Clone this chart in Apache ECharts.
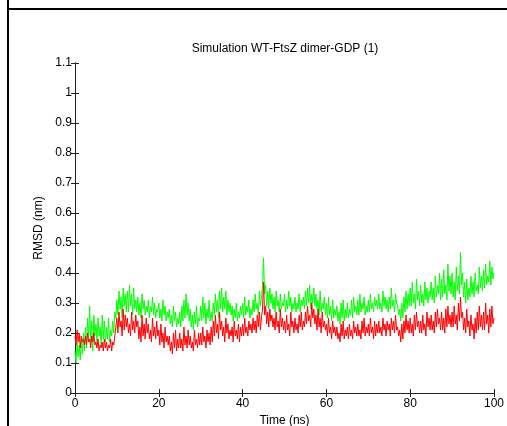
<!DOCTYPE html>
<html>
<head>
<meta charset="utf-8">
<script src="https://cdn.jsdelivr.net/npm/echarts@6/dist/echarts.min.js"></script>
<style>
  html, body { margin: 0; padding: 0; background: #fff; }
  #chart { width: 507px; height: 426px; }
</style>
</head>
<body>
<div id="chart"></div>
<script>
// time step of the sampled traces (ns)
const timeStep = 0.25;
const xTicks = [0, 20, 40, 60, 80, 100];

// RMSD traces (nm), one value per 0.25 ns (10 per line = 2.5 ns)
const greenRmsd = [
  0.14,0.10,0.17,0.12,0.16,0.11,0.18,0.13,0.20,0.14,
  0.22,0.15,0.25,0.18,0.29,0.17,0.24,0.14,0.26,0.19,
  0.23,0.17,0.25,0.19,0.22,0.16,0.26,0.18,0.24,0.17,
  0.22,0.18,0.25,0.17,0.21,0.19,0.24,0.20,0.27,0.25,
  0.31,0.26,0.34,0.28,0.32,0.25,0.35,0.29,0.33,0.27,
  0.34,0.27,0.36,0.29,0.33,0.26,0.35,0.28,0.31,0.27,
  0.32,0.26,0.30,0.25,0.33,0.28,0.31,0.26,0.29,0.27,
  0.31,0.25,0.29,0.27,0.32,0.26,0.30,0.25,0.28,0.27,
  0.30,0.25,0.28,0.24,0.31,0.26,0.29,0.24,0.27,0.25,
  0.28,0.23,0.26,0.22,0.29,0.24,0.27,0.22,0.25,0.23,
  0.27,0.22,0.29,0.24,0.31,0.25,0.33,0.26,0.30,0.24,
  0.28,0.22,0.26,0.21,0.27,0.23,0.29,0.22,0.25,0.24,
  0.29,0.24,0.32,0.25,0.30,0.23,0.28,0.25,0.31,0.24,
  0.27,0.24,0.30,0.26,0.33,0.27,0.31,0.25,0.34,0.28,
  0.35,0.27,0.32,0.28,0.34,0.26,0.31,0.27,0.30,0.26,
  0.29,0.24,0.28,0.25,0.30,0.24,0.27,0.25,0.29,0.26,
  0.30,0.25,0.32,0.26,0.29,0.27,0.31,0.25,0.28,0.26,
  0.31,0.27,0.33,0.28,0.30,0.26,0.34,0.29,0.32,0.36,
  0.45,0.33,0.36,0.29,0.34,0.28,0.35,0.30,0.33,0.28,
  0.32,0.27,0.34,0.29,0.31,0.27,0.33,0.28,0.30,0.29,
  0.33,0.27,0.31,0.28,0.34,0.29,0.32,0.27,0.30,0.28,
  0.32,0.27,0.30,0.28,0.33,0.27,0.31,0.29,0.32,0.28,
  0.34,0.29,0.35,0.30,0.36,0.28,0.33,0.30,0.35,0.29,
  0.33,0.28,0.31,0.26,0.34,0.27,0.30,0.28,0.32,0.26,
  0.30,0.25,0.32,0.26,0.29,0.24,0.31,0.25,0.28,0.26,
  0.29,0.24,0.27,0.23,0.30,0.25,0.31,0.24,0.28,0.25,
  0.30,0.25,0.28,0.26,0.31,0.25,0.32,0.27,0.29,0.26,
  0.31,0.26,0.33,0.27,0.30,0.28,0.32,0.26,0.29,0.27,
  0.31,0.27,0.33,0.28,0.30,0.27,0.32,0.29,0.31,0.28,
  0.33,0.28,0.30,0.27,0.34,0.29,0.32,0.28,0.31,0.27,
  0.32,0.28,0.35,0.29,0.31,0.27,0.33,0.30,0.29,0.26,
  0.28,0.24,0.30,0.25,0.32,0.27,0.34,0.28,0.33,0.29,
  0.35,0.29,0.37,0.30,0.33,0.28,0.38,0.31,0.34,0.29,
  0.36,0.30,0.33,0.29,0.37,0.31,0.35,0.30,0.34,0.32,
  0.37,0.31,0.35,0.30,0.39,0.32,0.36,0.33,0.40,0.31,
  0.38,0.32,0.41,0.33,0.36,0.31,0.43,0.34,0.39,0.33,
  0.40,0.32,0.37,0.31,0.42,0.34,0.39,0.33,0.47,0.36,
  0.40,0.32,0.37,0.30,0.38,0.31,0.35,0.32,0.39,0.33,
  0.37,0.32,0.40,0.34,0.36,0.33,0.42,0.35,0.39,0.34,
  0.41,0.35,0.43,0.36,0.39,0.37,0.44,0.36,0.42,0.38,0.40
];

const redRmsd = [
  0.19,0.16,0.21,0.17,0.20,0.15,0.19,0.17,0.18,0.16,
  0.19,0.16,0.20,0.17,0.18,0.15,0.19,0.17,0.20,0.16,
  0.17,0.15,0.18,0.14,0.16,0.15,0.17,0.14,0.18,0.15,
  0.17,0.14,0.16,0.15,0.18,0.14,0.17,0.16,0.19,0.22,
  0.25,0.20,0.27,0.22,0.24,0.19,0.28,0.21,0.26,0.22,
  0.25,0.20,0.23,0.19,0.27,0.21,0.24,0.20,0.26,0.22,
  0.24,0.18,0.22,0.17,0.26,0.19,0.23,0.18,0.25,0.20,
  0.23,0.18,0.21,0.17,0.25,0.19,0.22,0.18,0.24,0.19,
  0.21,0.16,0.23,0.17,0.20,0.15,0.22,0.17,0.19,0.16,
  0.19,0.14,0.17,0.13,0.20,0.15,0.21,0.14,0.18,0.15,
  0.20,0.15,0.18,0.14,0.22,0.16,0.19,0.15,0.21,0.16,
  0.19,0.15,0.17,0.14,0.21,0.16,0.18,0.15,0.20,0.16,
  0.20,0.16,0.22,0.17,0.19,0.15,0.21,0.17,0.20,0.16,
  0.22,0.17,0.24,0.19,0.26,0.20,0.23,0.18,0.27,0.21,
  0.24,0.19,0.22,0.17,0.25,0.20,0.23,0.18,0.21,0.19,
  0.22,0.17,0.24,0.19,0.21,0.18,0.23,0.17,0.22,0.19,
  0.23,0.19,0.25,0.20,0.22,0.19,0.24,0.21,0.23,0.20,
  0.25,0.21,0.24,0.20,0.26,0.22,0.27,0.21,0.25,0.28,
  0.37,0.26,0.29,0.23,0.27,0.22,0.28,0.24,0.26,0.22,
  0.25,0.21,0.27,0.22,0.24,0.20,0.28,0.22,0.25,0.21,
  0.24,0.20,0.26,0.21,0.23,0.19,0.27,0.22,0.24,0.20,
  0.25,0.21,0.23,0.20,0.26,0.22,0.27,0.21,0.24,0.22,
  0.27,0.23,0.29,0.24,0.26,0.22,0.30,0.25,0.28,0.23,
  0.26,0.21,0.28,0.22,0.25,0.20,0.27,0.22,0.24,0.21,
  0.23,0.19,0.25,0.20,0.22,0.18,0.24,0.20,0.22,0.19,
  0.22,0.18,0.20,0.17,0.23,0.19,0.24,0.18,0.21,0.19,
  0.22,0.18,0.23,0.19,0.21,0.18,0.24,0.20,0.22,0.19,
  0.23,0.19,0.21,0.18,0.24,0.20,0.25,0.19,0.22,0.20,
  0.23,0.19,0.25,0.20,0.22,0.18,0.24,0.19,0.23,0.20,
  0.24,0.20,0.22,0.19,0.25,0.21,0.23,0.19,0.24,0.21,
  0.23,0.19,0.25,0.21,0.24,0.20,0.26,0.21,0.22,0.19,
  0.21,0.17,0.23,0.18,0.24,0.20,0.26,0.21,0.24,0.20,
  0.25,0.20,0.23,0.19,0.26,0.21,0.27,0.22,0.24,0.20,
  0.24,0.20,0.26,0.21,0.23,0.19,0.27,0.22,0.25,0.21,
  0.26,0.21,0.24,0.20,0.27,0.22,0.28,0.23,0.25,0.21,
  0.27,0.21,0.25,0.20,0.28,0.22,0.29,0.23,0.26,0.22,
  0.27,0.22,0.29,0.23,0.26,0.21,0.30,0.24,0.32,0.25,
  0.27,0.21,0.25,0.20,0.28,0.22,0.24,0.19,0.26,0.21,
  0.23,0.18,0.25,0.20,0.27,0.21,0.29,0.22,0.26,0.21,
  0.27,0.21,0.30,0.23,0.26,0.20,0.28,0.22,0.29,0.23,0.25
];

const toPairs = (arr) => arr.map((v, i) => [+(i * timeStep).toFixed(2), v]);

const fontFamily = "Liberation Sans, Arial, sans-serif";
const axisColor = "#222";

const myChart = echarts.init(document.getElementById("chart"));

myChart.setOption({
  animation: false,
  backgroundColor: "#fff",
  title: {
    text: "Simulation WT-FtsZ dimer-GDP (1)",
    left: 280,
    top: 38,
    textAlign: "center",
    textStyle: { fontFamily, fontSize: 12, fontWeight: "normal", color: "#000" },
  },
  grid: { left: 75, right: 13, top: 63, bottom: 33, outerBoundsMode: "none" },
  xAxis: [
    {
      type: "value",
      min: 0,
      max: 100,
      interval: 20,
      name: "Time (ns)",
      nameLocation: "middle",
      nameGap: 19,
      nameTextStyle: { fontFamily, fontSize: 12, color: "#000" },
      axisLine: { lineStyle: { color: axisColor, width: 1 } },
      axisTick: { inside: true, length: 4, lineStyle: { color: axisColor } },
      axisLabel: {
        fontFamily, fontSize: 12, color: "#000", margin: 5,
        formatter: (v) => (xTicks.includes(v) ? String(v) : ""),
      },
      splitLine: { show: false },
    },
    {
      type: "value",
      position: "top",
      min: 0,
      max: 100,
      interval: 20,
      axisLine: { lineStyle: { color: axisColor, width: 1 } },
      axisTick: { inside: true, length: 4, lineStyle: { color: axisColor } },
      axisLabel: { show: false },
      splitLine: { show: false },
    },
  ],
  yAxis: [
    {
      type: "value",
      min: 0,
      max: 1.1,
      interval: 0.1,
      name: "RMSD (nm)",
      nameLocation: "middle",
      nameGap: 28,
      nameTextStyle: { fontFamily, fontSize: 12, color: "#000" },
      axisLine: { show: true, lineStyle: { color: axisColor, width: 1 } },
      axisTick: { show: true, inside: true, length: 4, lineStyle: { color: axisColor } },
      axisLabel: {
        fontFamily, fontSize: 12, color: "#000", margin: 3,
        formatter: (v) => String(+v.toFixed(1)),
      },
      splitLine: { show: false },
    },
    {
      type: "value",
      position: "right",
      min: 0,
      max: 1.1,
      interval: 0.1,
      axisLine: { show: true, lineStyle: { color: axisColor, width: 1 } },
      axisTick: { show: true, inside: true, length: 4, lineStyle: { color: axisColor } },
      axisLabel: { show: false },
      splitLine: { show: false },
    },
  ],
  graphic: [
    // table cell frame around the figure
    { type: "line", shape: { x1: 8, y1: 0, x2: 8, y2: 426 }, style: { stroke: "#000", lineWidth: 2 } },
    { type: "line", shape: { x1: 8, y1: 9, x2: 507, y2: 9 }, style: { stroke: "#000", lineWidth: 2 } },
  ],
  series: [
    {
      name: "green",
      type: "line",
      data: toPairs(greenRmsd),
      showSymbol: false,
      lineStyle: { color: "#00ff00", width: 1 },
      itemStyle: { color: "#00ff00" },
    },
    {
      name: "red",
      type: "line",
      data: toPairs(redRmsd),
      showSymbol: false,
      lineStyle: { color: "#ff0000", width: 1 },
      itemStyle: { color: "#ff0000" },
    },
  ],
});
</script>
</body>
</html>
